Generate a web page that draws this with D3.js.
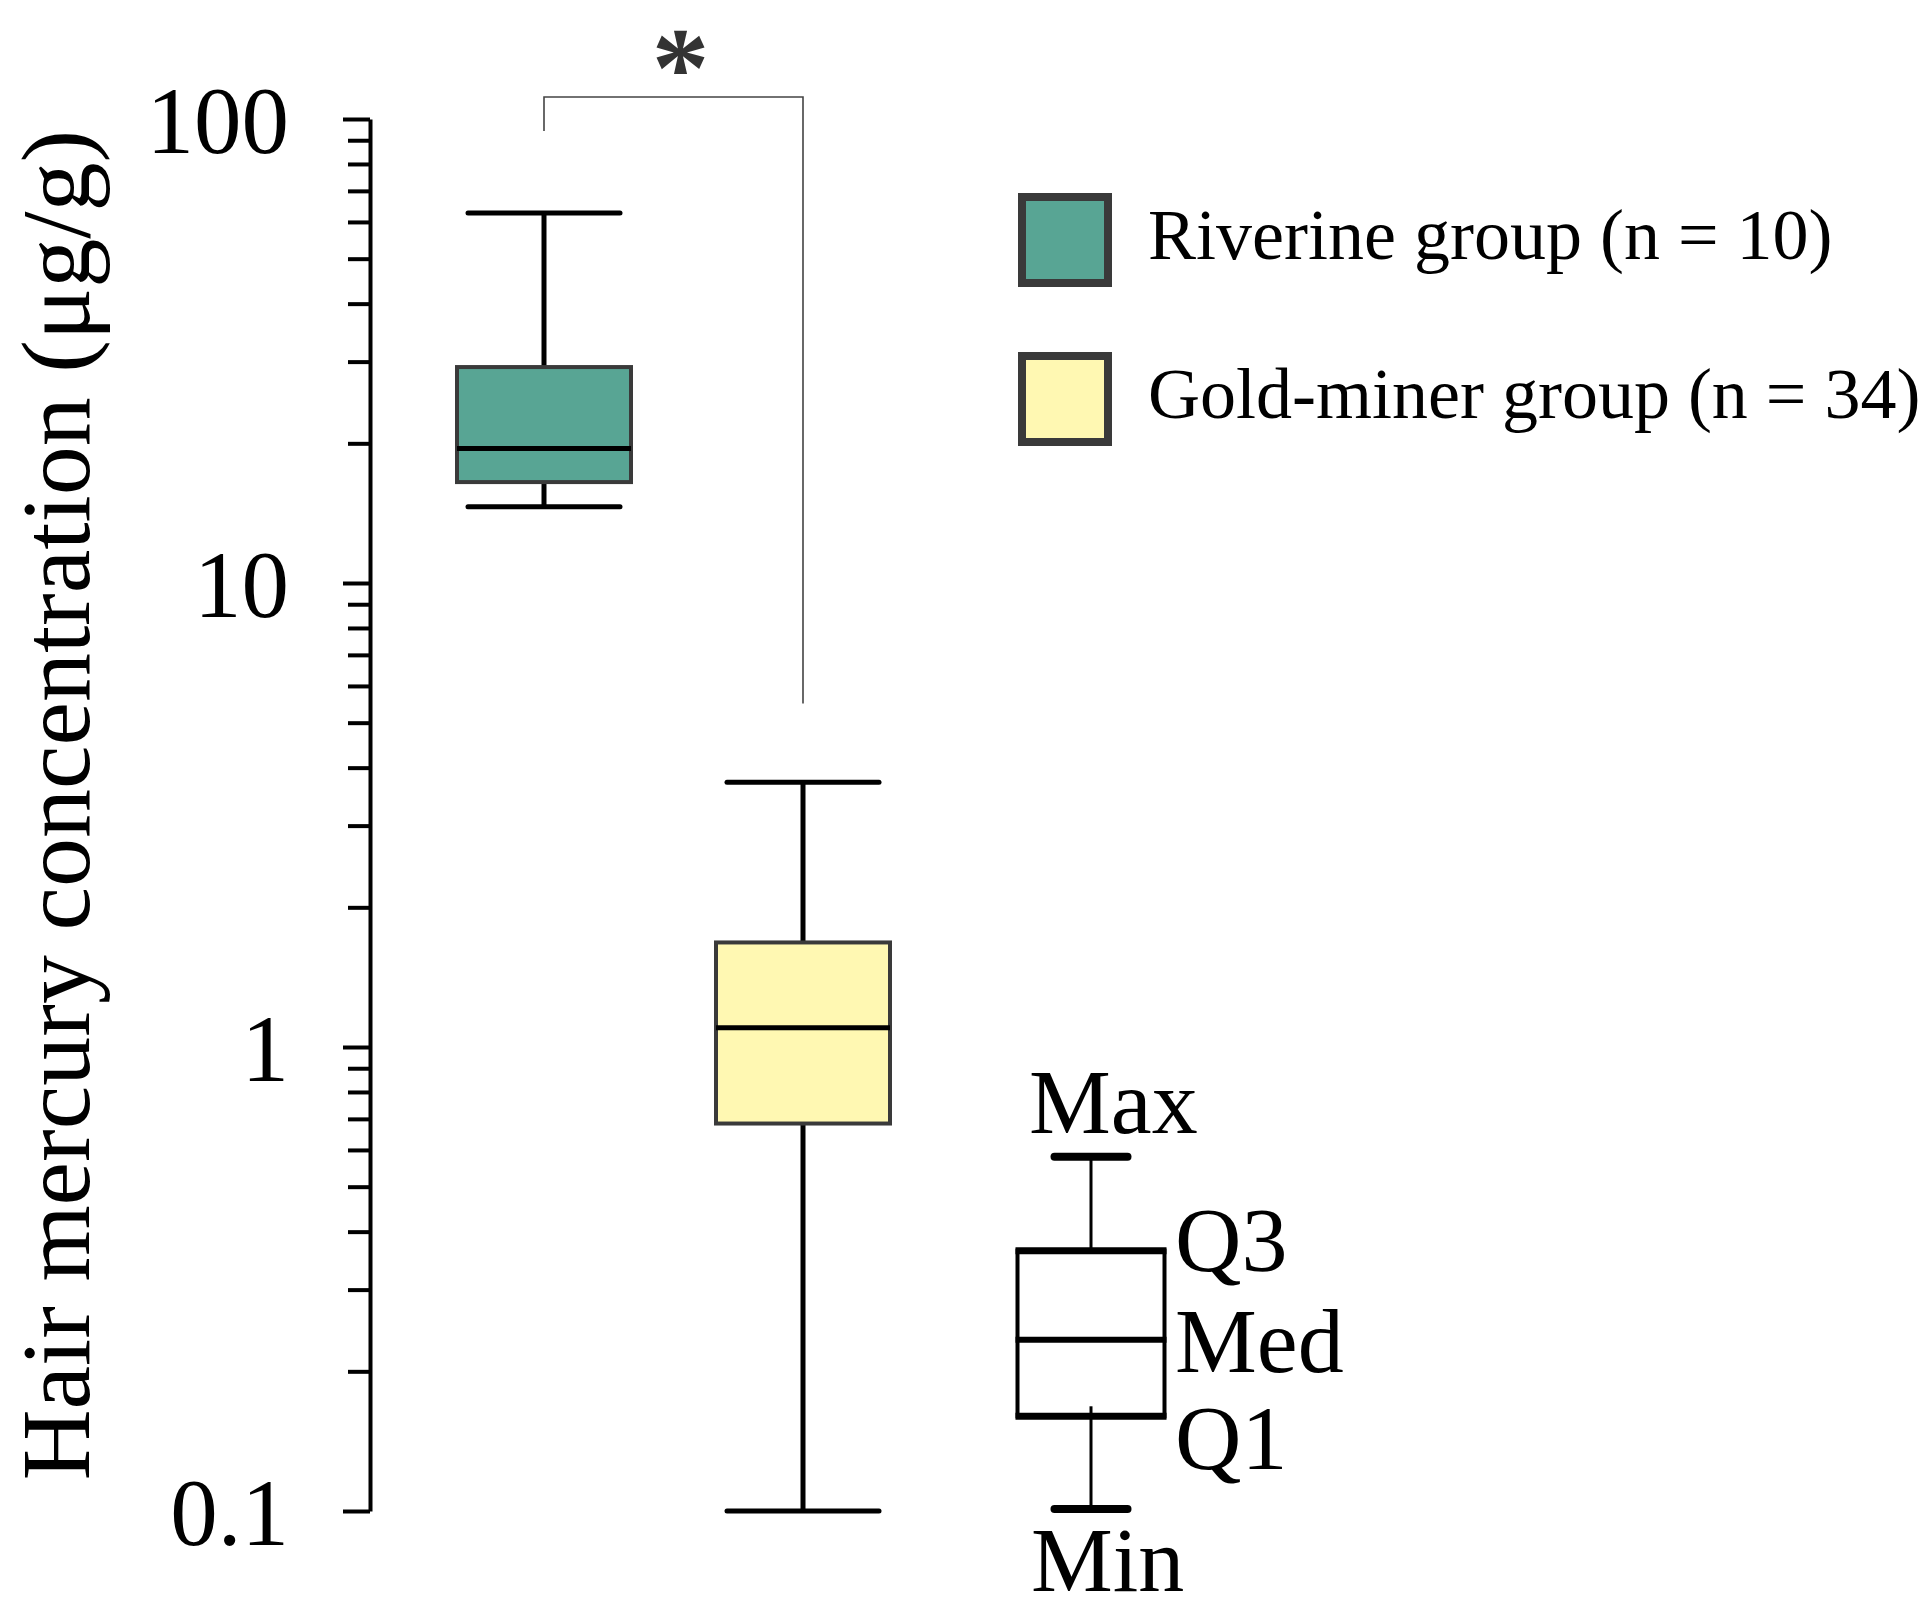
<!doctype html>
<html lang="en">
<head>
<meta charset="utf-8">
<title>Hair mercury concentration</title>
<script src="https://d3js.org/d3.v7.min.js"></script>
<style>
  body { margin: 0; background: #fff; }
  svg { display: block; }
  text { font-family: "Liberation Serif", "Times New Roman", serif; }
</style>
</head>
<body>
<script>
// ---- data ----
var groups   = ["Riverine", "Gold-miner"];
var labels   = ["Riverine group (n = 10)", "Gold-miner group (n = 34)"];
var colors   = ["#58a594", "#fff8b2"];
var mins     = [14.6, 0.1];
var q1s      = [16.5, 0.684];
var medians  = [19.5, 1.10];
var q3s      = [29.2, 1.68];
var maxs     = [62.7, 3.72];

var majorTicks = [0.1, 1, 10, 100];
var tickLabels = ["0.1", "1", "10", "100"];
var minorTicks = [0.2,0.3,0.4,0.5,0.6,0.7,0.8,0.9, 2,3,4,5,6,7,8,9, 20,30,40,50,60,70,80,90];

// significance bracket: top, left end, right end
var bracket = {top: 111.5, leftEnd: 94.2, rightEnd: 5.5};

// explanatory key box (values on the same log scale)
var keyNames  = ["Min", "Q1", "Med", "Q3", "Max"];
var keyValues = [0.101, 0.160, 0.234, 0.364, 0.580];

var W = 1925, H = 1615;

var svg = d3.select("body").append("svg")
  .attr("width", W).attr("height", H)
  .style("background", "#fff");

var y = d3.scaleLog().domain([0.1, 100]).range([1511, 119]);
var x = d3.scalePoint().domain(groups).range([544, 803]);
var axisX = 370;
var boxW = 174, capW = 152;

// ---- axis ----
var gMinor = svg.append("g")
  .attr("transform", "translate(" + axisX + ",0)")
  .call(d3.axisLeft(y).tickValues(minorTicks).tickSize(22).tickSizeOuter(0).tickFormat(""));
gMinor.select(".domain").remove();
gMinor.selectAll("line").attr("stroke", "#000").attr("stroke-width", 4);

var gMajor = svg.append("g")
  .attr("transform", "translate(" + axisX + ",0)")
  .call(d3.axisLeft(y).tickValues(majorTicks).tickSize(27).tickSizeOuter(0).tickPadding(54)
    .tickFormat(function(d, i) { return tickLabels[i]; }));
gMajor.select(".domain").attr("stroke", "#000").attr("stroke-width", 4);
gMajor.selectAll("line").attr("stroke", "#000").attr("stroke-width", 4);
gMajor.selectAll("text")
  .attr("font-family", "Liberation Serif, Times New Roman, serif")
  .attr("font-size", 95)
  .attr("fill", "#000")
  .attr("dy", "0.35em");

// y title
svg.append("text")
  .attr("transform", "translate(89,805) rotate(-90)")
  .attr("text-anchor", "middle")
  .attr("font-size", 98)
  .attr("fill", "#000")
  .text("Hair mercury concentration (\u03bcg/g)");

// ---- box plots ----
var idx = d3.range(groups.length);
var boxes = svg.selectAll(".box").data(idx).enter().append("g").attr("class", "box");

boxes.append("line")
  .attr("x1", function(i) { return x(groups[i]); })
  .attr("x2", function(i) { return x(groups[i]); })
  .attr("y1", function(i) { return y(maxs[i]); })
  .attr("y2", function(i) { return y(mins[i]); })
  .attr("stroke", "#000").attr("stroke-width", 5);

boxes.selectAll(".cap").data(function(i) { return [[i, maxs[i]], [i, mins[i]]]; })
  .enter().append("line")
  .attr("x1", function(d) { return x(groups[d[0]]) - capW / 2; })
  .attr("x2", function(d) { return x(groups[d[0]]) + capW / 2; })
  .attr("y1", function(d) { return y(d[1]); })
  .attr("y2", function(d) { return y(d[1]); })
  .attr("stroke", "#000").attr("stroke-width", 5).attr("stroke-linecap", "round");

boxes.append("rect")
  .attr("x", function(i) { return x(groups[i]) - boxW / 2; })
  .attr("y", function(i) { return y(q3s[i]); })
  .attr("width", boxW)
  .attr("height", function(i) { return y(q1s[i]) - y(q3s[i]); })
  .attr("fill", function(i) { return colors[i]; })
  .attr("stroke", "#3a3a3a").attr("stroke-width", 4);

boxes.append("line")
  .attr("x1", function(i) { return x(groups[i]) - boxW / 2; })
  .attr("x2", function(i) { return x(groups[i]) + boxW / 2; })
  .attr("y1", function(i) { return y(medians[i]); })
  .attr("y2", function(i) { return y(medians[i]); })
  .attr("stroke", "#000").attr("stroke-width", 5);

// ---- significance bracket ----
var bx0 = x(groups[0]), bx1 = x(groups[1]);
svg.append("path")
  .attr("d", d3.line()([
    [bx0, y(bracket.leftEnd)], [bx0, y(bracket.top)],
    [bx1, y(bracket.top)], [bx1, y(bracket.rightEnd)]
  ]))
  .attr("fill", "none").attr("stroke", "#444").attr("stroke-width", 1.6);

svg.append("text")
  .attr("x", (bx0 + bx1) / 2 + 7)
  .attr("y", 106)
  .attr("text-anchor", "middle")
  .attr("font-family", "Liberation Sans, Arial, sans-serif")
  .attr("font-weight", "bold")
  .attr("font-size", 115)
  .attr("fill", "#333")
  .text("*");

// ---- legend ----
var legend = svg.selectAll(".legend").data(idx).enter().append("g")
  .attr("class", "legend")
  .attr("transform", function(i) { return "translate(1022," + (197 + i * 159) + ")"; });

legend.append("rect")
  .attr("width", 86).attr("height", 86)
  .attr("fill", function(i) { return colors[i]; })
  .attr("stroke", "#3a3a3a").attr("stroke-width", 8);

legend.append("text")
  .attr("x", 126).attr("y", 62)
  .attr("font-size", 72)
  .attr("fill", "#000")
  .text(function(i) { return labels[i]; });

// ---- explanatory key box ----
var kx = 1091, kBoxW = 147, kCapW = 73;
var key = svg.append("g");
var kMin = keyValues[0], kQ1 = keyValues[1], kMed = keyValues[2], kQ3 = keyValues[3], kMax = keyValues[4];

key.append("line")
  .attr("x1", kx).attr("x2", kx).attr("y1", y(kMax)).attr("y2", y(kMin))
  .attr("stroke", "#000").attr("stroke-width", 3);
[kMax, kMin].forEach(function(v) {
  key.append("line")
    .attr("x1", kx - kCapW / 2).attr("x2", kx + kCapW / 2)
    .attr("y1", y(v)).attr("y2", y(v))
    .attr("stroke", "#000").attr("stroke-width", 8).attr("stroke-linecap", "round");
});
key.append("rect")
  .attr("x", kx - kBoxW / 2).attr("y", y(kQ3))
  .attr("width", kBoxW).attr("height", y(kQ1) - y(kQ3))
  .attr("fill", "#fff").attr("stroke", "#000").attr("stroke-width", 4);
[[kQ3, 7], [kMed, 6], [kQ1, 7]].forEach(function(d) {
  key.append("line")
    .attr("x1", kx - kBoxW / 2 - 2).attr("x2", kx + kBoxW / 2 + 2)
    .attr("y1", y(d[0])).attr("y2", y(d[0]))
    .attr("stroke", "#000").attr("stroke-width", d[1]);
});
// whisker stub poking into the box from below
key.append("line").attr("x1", kx).attr("x2", kx).attr("y1", y(kQ1) - 10).attr("y2", y(kQ1))
  .attr("stroke", "#000").attr("stroke-width", 3);

var keyText = key.append("g").attr("font-size", 92).attr("fill", "#000");
keyText.append("text").attr("x", 1029).attr("y", y(kMax) - 24).text(keyNames[4]);
keyText.append("text").attr("x", 1175).attr("y", y(kQ3) + 20).text(keyNames[3]);
keyText.append("text").attr("x", 1175).attr("y", y(kMed) + 32).text(keyNames[2]);
keyText.append("text").attr("x", 1175).attr("y", y(kQ1) + 53).text(keyNames[1]);
keyText.append("text").attr("x", 1031).attr("y", y(kMin) + 82).text(keyNames[0]);
</script>
</body>
</html>
